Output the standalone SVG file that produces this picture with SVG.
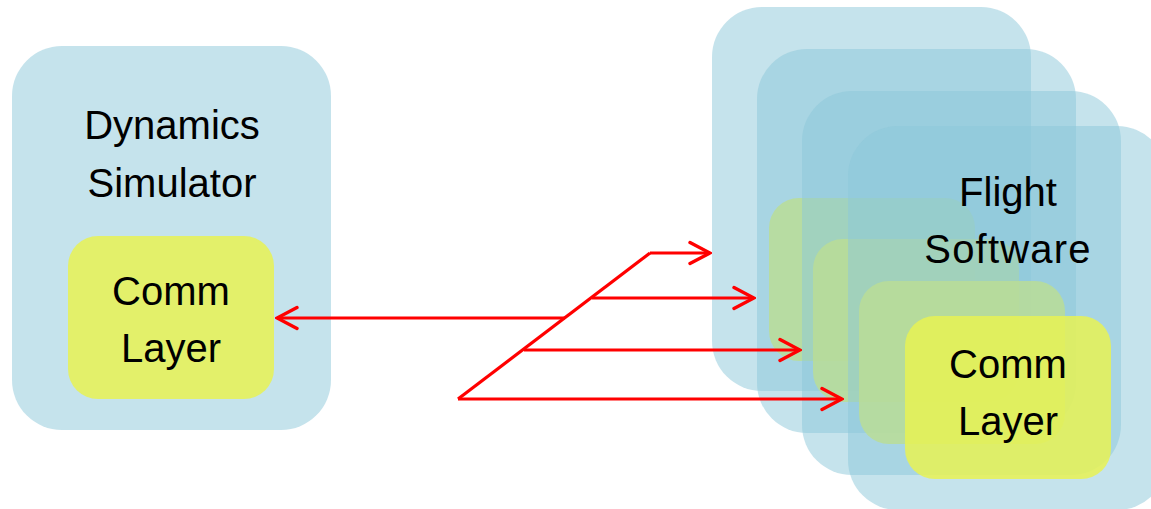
<svg xmlns="http://www.w3.org/2000/svg" width="1151" height="509" viewBox="0 0 1151 509">
  <style>
    .host { fill: rgb(139,199,217); fill-opacity: 0.5; }
    .comm { fill: rgb(231,242,84); fill-opacity: 0.85; }
    .lbl { font-family: "Liberation Sans", Arial, sans-serif; font-size: 40px; fill: #000; text-anchor: middle; }
    .wire { stroke: #ff0000; stroke-width: 3.2; fill: none; stroke-linecap: butt; }
  </style>
  <defs>
    <marker id="vhead" viewBox="-24 -13 26 26" markerWidth="26" markerHeight="26" refX="0" refY="0" orient="auto" markerUnits="userSpaceOnUse">
      <path d="M-20,-10.5 L0,0 L-20,10.5" fill="none" stroke="#ff0000" stroke-width="3.4" stroke-linecap="round" stroke-linejoin="miter"/>
    </marker>
  </defs>
  <rect width="1151" height="509" fill="#ffffff"/>

  <g id="dynamics-simulator">
    <rect class="host" x="12" y="46" width="319" height="384" rx="50" ry="50"/>
    <text class="lbl" x="172" y="139">Dynamics</text>
    <text class="lbl" x="172" y="197">Simulator</text>
  </g>
  <g id="sim-comm-layer">
    <rect class="comm" x="68" y="236" width="206" height="163" rx="30" ry="30"/>
    <text class="lbl" x="171" y="305">Comm</text>
    <text class="lbl" x="171" y="362">Layer</text>
  </g>

  <g id="flight-software-1">
    <rect class="host" x="712" y="7" width="319" height="384" rx="50" ry="50"/>
  </g>
  <g id="fsw-comm-layer-1">
    <rect class="comm" x="769" y="198" width="206" height="163" rx="30" ry="30"/>
  </g>
  <g id="flight-software-2">
    <rect class="host" x="757" y="49" width="319" height="384" rx="50" ry="50"/>
  </g>
  <g id="fsw-comm-layer-2">
    <rect class="comm" x="813" y="239" width="206" height="163" rx="30" ry="30"/>
  </g>
  <g id="flight-software-3">
    <rect class="host" x="802" y="91" width="319" height="384" rx="50" ry="50"/>
  </g>
  <g id="fsw-comm-layer-3">
    <rect class="comm" x="859" y="281" width="206" height="163" rx="30" ry="30"/>
  </g>
  <g id="flight-software-4">
    <rect class="host" x="848" y="126" width="319" height="384" rx="50" ry="50"/>
    <text class="lbl" x="1008" y="206">Flight</text>
    <text class="lbl" x="1008" y="263" letter-spacing="1.2">Software</text>
  </g>
  <g id="fsw-comm-layer-4">
    <rect class="comm" x="905" y="316" width="206" height="163" rx="30" ry="30"/>
    <text class="lbl" x="1008" y="378">Comm</text>
    <text class="lbl" x="1008" y="435">Layer</text>
  </g>

  <g id="connectors">
    <path class="wire" d="M565,318 L277,318" marker-end="url(#vhead)"/>
    <path class="wire" d="M458,399 L650,253"/>
    <path class="wire" d="M650,253 L710,253" marker-end="url(#vhead)"/>
    <path class="wire" d="M592,298 L754,298" marker-end="url(#vhead)"/>
    <path class="wire" d="M524,350 L800,350" marker-end="url(#vhead)"/>
    <path class="wire" d="M458,399 L842,399" marker-end="url(#vhead)"/>
  </g>
</svg>
